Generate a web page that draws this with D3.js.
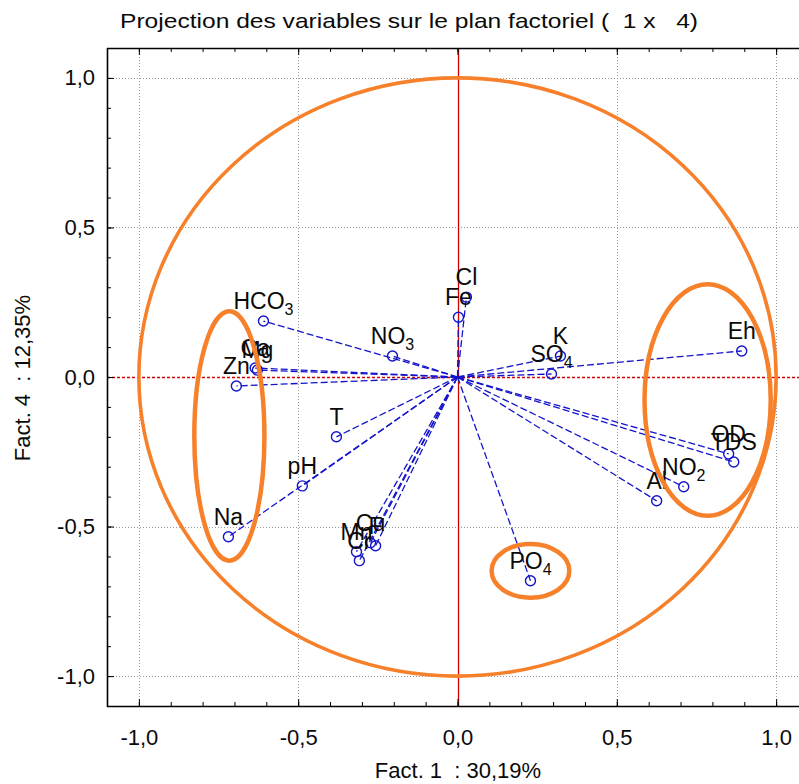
<!DOCTYPE html>
<html>
<head>
<meta charset="utf-8">
<script src="https://cdn.jsdelivr.net/npm/d3@7"></script>
<style>
  html, body { margin: 0; padding: 0; background: #fff; }
  svg { display: block; font-family: "Liberation Sans", Arial, sans-serif; }
  .pre { white-space: pre; }
</style>
</head>
<body>
<svg id="chart" width="799" height="784"></svg>
<script>
// ---- Data ----
const variables = ["HCO3","NO3","Cl","Fe","K","SO4","Eh","OD","TDS","NO2","Al","Mg","Ca","Zn","T","pH","Na","PO4","Mn","Cr","Cu","F"];
const fact1 = [-0.609,-0.204,0.028,0.003,0.323,0.295,0.892,0.851,0.867,0.710,0.625,-0.628,-0.635,-0.694,-0.380,-0.487,-0.719,0.229,-0.317,-0.308,-0.273,-0.257];
const fact4 = [0.187,0.070,0.267,0.200,0.070,0.010,0.087,-0.257,-0.284,-0.367,-0.414,0.023,0.030,-0.030,-0.200,-0.364,-0.534,-0.681,-0.584,-0.614,-0.554,-0.564];
const majorTicks = [-1.0,-0.5,0.0,0.5,1.0];
const minorTicks = d3.range(-11,12).map(d => d/10);
// hand-drawn highlight ellipses (in factor units)
const hlCx = [-0.716, 0.785, 0.229];
const hlCy = [-0.197, -0.077, -0.648];
const hlRx = [0.110, 0.198, 0.122];
const hlRy = [0.417, 0.387, 0.090];
const title = "Projection des variables sur le plan factoriel (  1 x   4)";
const xTitle = "Fact. 1  : 30,19%";
const yTitle = "Fact. 4  : 12,35%";

// ---- Layout ----
const svg = d3.select("#chart");
const L = 107, R = 808, T = 48, B = 706;
const x = d3.scaleLinear().domain([-1.1, 1.1]).range([L, R]);
const y = d3.scaleLinear().domain([-1.1, 1.1]).range([B, T]);
const loc = d3.formatLocale({decimal: ",", thousands: ".", grouping: [3], currency: ["", ""], minus: "-"});
const fmt = loc.format(".1f");

const BLUE = "#1414cc", ORANGE = "#f7802b", RED = "#d00000";
const TXT = "#0a0a0a";

svg.append("defs").append("clipPath").attr("id", "clip")
  .append("rect").attr("x", L).attr("y", T).attr("width", R - L).attr("height", B - T);

// grid
const grid = svg.append("g").attr("stroke", "#9a9a9a").attr("stroke-width", 1).attr("stroke-dasharray", "1,2");
grid.selectAll(".gx").data(majorTicks.filter(d => d !== 0)).join("line")
  .attr("x1", d => Math.round(x(d)) + 0.5).attr("x2", d => Math.round(x(d)) + 0.5)
  .attr("y1", T).attr("y2", B);
grid.selectAll(".gy").data(majorTicks.filter(d => d !== 0)).join("line")
  .attr("y1", d => Math.round(y(d)) + 0.5).attr("y2", d => Math.round(y(d)) + 0.5)
  .attr("x1", L).attr("x2", R);

// red reference lines
svg.append("line").attr("x1", Math.round(x(0)) + 0.5).attr("x2", Math.round(x(0)) + 0.5)
  .attr("y1", T).attr("y2", B).attr("stroke", RED).attr("stroke-width", 1.3);
svg.append("line").attr("y1", Math.round(y(0)) + 0.5).attr("y2", Math.round(y(0)) + 0.5)
  .attr("x1", L).attr("x2", R).attr("stroke", RED).attr("stroke-width", 1.3).attr("stroke-dasharray", "3,2");

const data = variables.map((v, i) => ({name: v, f1: fact1[i], f4: fact4[i]}));

const plot = svg.append("g").attr("clip-path", "url(#clip)");

// vectors
plot.selectAll(".vec").data(data).join("line")
  .attr("x1", x(0)).attr("y1", y(0))
  .attr("x2", d => x(d.f1)).attr("y2", d => y(d.f4))
  .attr("stroke", BLUE).attr("stroke-width", 1.3).attr("stroke-dasharray", "7,3");

// markers
plot.selectAll(".pt").data(data).join("circle")
  .attr("cx", d => x(d.f1)).attr("cy", d => y(d.f4)).attr("r", 5)
  .attr("fill", "none").attr("stroke", BLUE).attr("stroke-width", 1.4);

// labels with subscripts
const lab = plot.selectAll(".lab").data(data).join("text")
  .attr("x", d => x(d.f1)).attr("y", d => y(d.f4) - 12)
  .attr("text-anchor", "middle").attr("font-size", 23).attr("fill", TXT);
lab.each(function(d) {
  const m = d.name.match(/^([A-Za-z]+?)(\d+)$/);
  const t = d3.select(this);
  if (m) {
    t.append("tspan").text(m[1]);
    t.append("tspan").attr("font-size", 16).attr("dy", 6).text(m[2]);
  } else {
    t.text(d.name);
  }
});

// unit circle
plot.append("ellipse")
  .attr("cx", x(0)).attr("cy", y(0))
  .attr("rx", x(1) - x(0)).attr("ry", y(0) - y(1))
  .attr("fill", "none").attr("stroke", ORANGE).attr("stroke-width", 3.6);

// highlight ellipses
plot.selectAll(".hl").data(hlCx.map((c, i) => i)).join("ellipse")
  .attr("cx", i => x(hlCx[i])).attr("cy", i => y(hlCy[i]))
  .attr("rx", i => x(hlRx[i]) - x(0)).attr("ry", i => y(0) - y(hlRy[i]))
  .attr("fill", "none").attr("stroke", ORANGE).attr("stroke-width", 4.5);

// axes
function styleAxis(g) {
  g.select(".domain").remove();
  g.selectAll("line").attr("stroke", "#000");
  g.selectAll("text").attr("font-size", 22).attr("fill", TXT).attr("font-family", "Liberation Sans, Arial, sans-serif");
}
// frame lines
svg.append("line").attr("x1", L + 0.5).attr("x2", L + 0.5).attr("y1", T).attr("y2", B + 1).attr("stroke", "#000").attr("stroke-width", 1.6);
svg.append("line").attr("x1", L).attr("x2", R).attr("y1", T + 0.5).attr("y2", T + 0.5).attr("stroke", "#000").attr("stroke-width", 1.6);
svg.append("line").attr("x1", L).attr("x2", R).attr("y1", B + 0.5).attr("y2", B + 0.5).attr("stroke", "#000").attr("stroke-width", 1.6);

// bottom axis
svg.append("g").attr("transform", `translate(0,${B})`)
  .call(d3.axisBottom(x).tickValues(minorTicks).tickSize(-4).tickFormat(""))
  .call(styleAxis);
svg.append("g").attr("transform", `translate(0,${B})`)
  .call(d3.axisBottom(x).tickValues(majorTicks).tickSize(-7).tickPadding(23).tickFormat(fmt))
  .call(styleAxis);
// top axis
svg.append("g").attr("transform", `translate(0,${T})`)
  .call(d3.axisTop(x).tickValues(minorTicks).tickSize(-4).tickFormat(""))
  .call(styleAxis);
svg.append("g").attr("transform", `translate(0,${T})`)
  .call(d3.axisTop(x).tickValues(majorTicks).tickSize(-7).tickFormat(""))
  .call(styleAxis);
// left axis
svg.append("g").attr("transform", `translate(${L},0)`)
  .call(d3.axisLeft(y).tickValues(minorTicks).tickSize(-4).tickFormat(""))
  .call(styleAxis);
svg.append("g").attr("transform", `translate(${L},0)`)
  .call(d3.axisLeft(y).tickValues(majorTicks).tickSize(-7).tickPadding(12).tickFormat(fmt))
  .call(styleAxis);

// titles
svg.append("text").attr("class", "pre").attr("xml:space", "preserve")
  .attr("x", 409).attr("y", 28).attr("text-anchor", "middle")
  .attr("font-size", 21).attr("fill", TXT)
  .attr("textLength", 578).attr("lengthAdjust", "spacingAndGlyphs").text(title);
svg.append("text").attr("class", "pre").attr("xml:space", "preserve")
  .attr("x", 458).attr("y", 778).attr("text-anchor", "middle")
  .attr("font-size", 22).attr("fill", TXT).text(xTitle);
svg.append("text").attr("class", "pre").attr("xml:space", "preserve")
  .attr("transform", "translate(30,378) rotate(-90)").attr("text-anchor", "middle")
  .attr("font-size", 22).attr("fill", TXT).text(yTitle);
</script>
</body>
</html>
